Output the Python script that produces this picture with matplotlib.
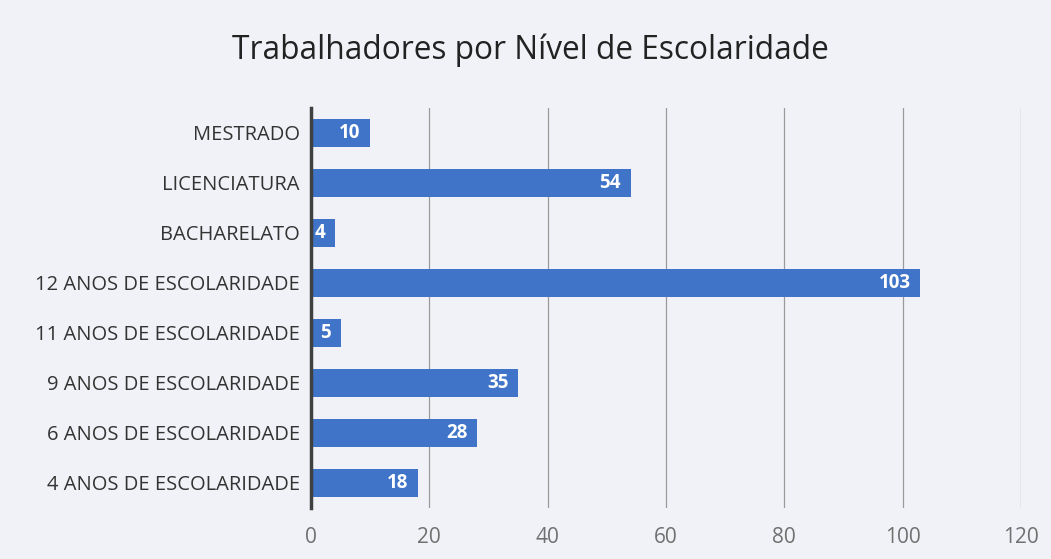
import numpy as np
import matplotlib.pyplot as plt

# niveis de escolaridade (de baixo para cima)
niveis = ["4 ANOS DE ESCOLARIDADE", "6 ANOS DE ESCOLARIDADE", "9 ANOS DE ESCOLARIDADE",
          "11 ANOS DE ESCOLARIDADE", "12 ANOS DE ESCOLARIDADE", "BACHARELATO",
          "LICENCIATURA", "MESTRADO"]
trabalhadores = [18, 28, 35, 5, 103, 4, 54, 10]
xticks = [0, 20, 40, 60, 80, 100, 120]

plt.rcParams['font.family'] = ['Open Sans', 'DejaVu Sans']

fig = plt.figure(figsize=(10.51, 5.59), dpi=100, facecolor='#f1f2f7')
ax = fig.add_axes([311/1051, 1-508/559, (1021-311)/1051, 400/559])
ax.set_facecolor('none')

y = np.arange(len(niveis))
bars = ax.barh(y, trabalhadores, height=0.57, color='#3f74c9', zorder=3)
for b, v in zip(bars, trabalhadores):
    ax.text(b.get_width() - 1.6, b.get_y() + b.get_height()/2, str(v),
            ha='right', va='center', color='white', fontsize=13.5, fontweight='bold', zorder=4)

ax.set_xlim(0, 120)
ax.set_ylim(-0.5, len(niveis) - 0.5)
ax.set_xticks(xticks)
ax.set_yticks(y)
ax.set_yticklabels(niveis)
ax.tick_params(axis='y', length=0, pad=8, labelsize=14.5, labelcolor='#333333')
ax.tick_params(axis='x', length=0, pad=14, labelsize=15, labelcolor='#707070')
ax.grid(axis='x', color='#9a9a9a', linewidth=0.9, zorder=0)
for s in ['top', 'right', 'bottom']:
    ax.spines[s].set_visible(False)
ax.spines['left'].set_color('#404040')
ax.spines['left'].set_linewidth(2.5)
ax.spines['left'].set_zorder(5)

fig.text(530/1051, 1-50/559, "Trabalhadores por Nível de Escolaridade",
         ha='center', va='center', fontsize=22.8, color='#222222')

fig.savefig("out.png", dpi=100, facecolor=fig.get_facecolor())
